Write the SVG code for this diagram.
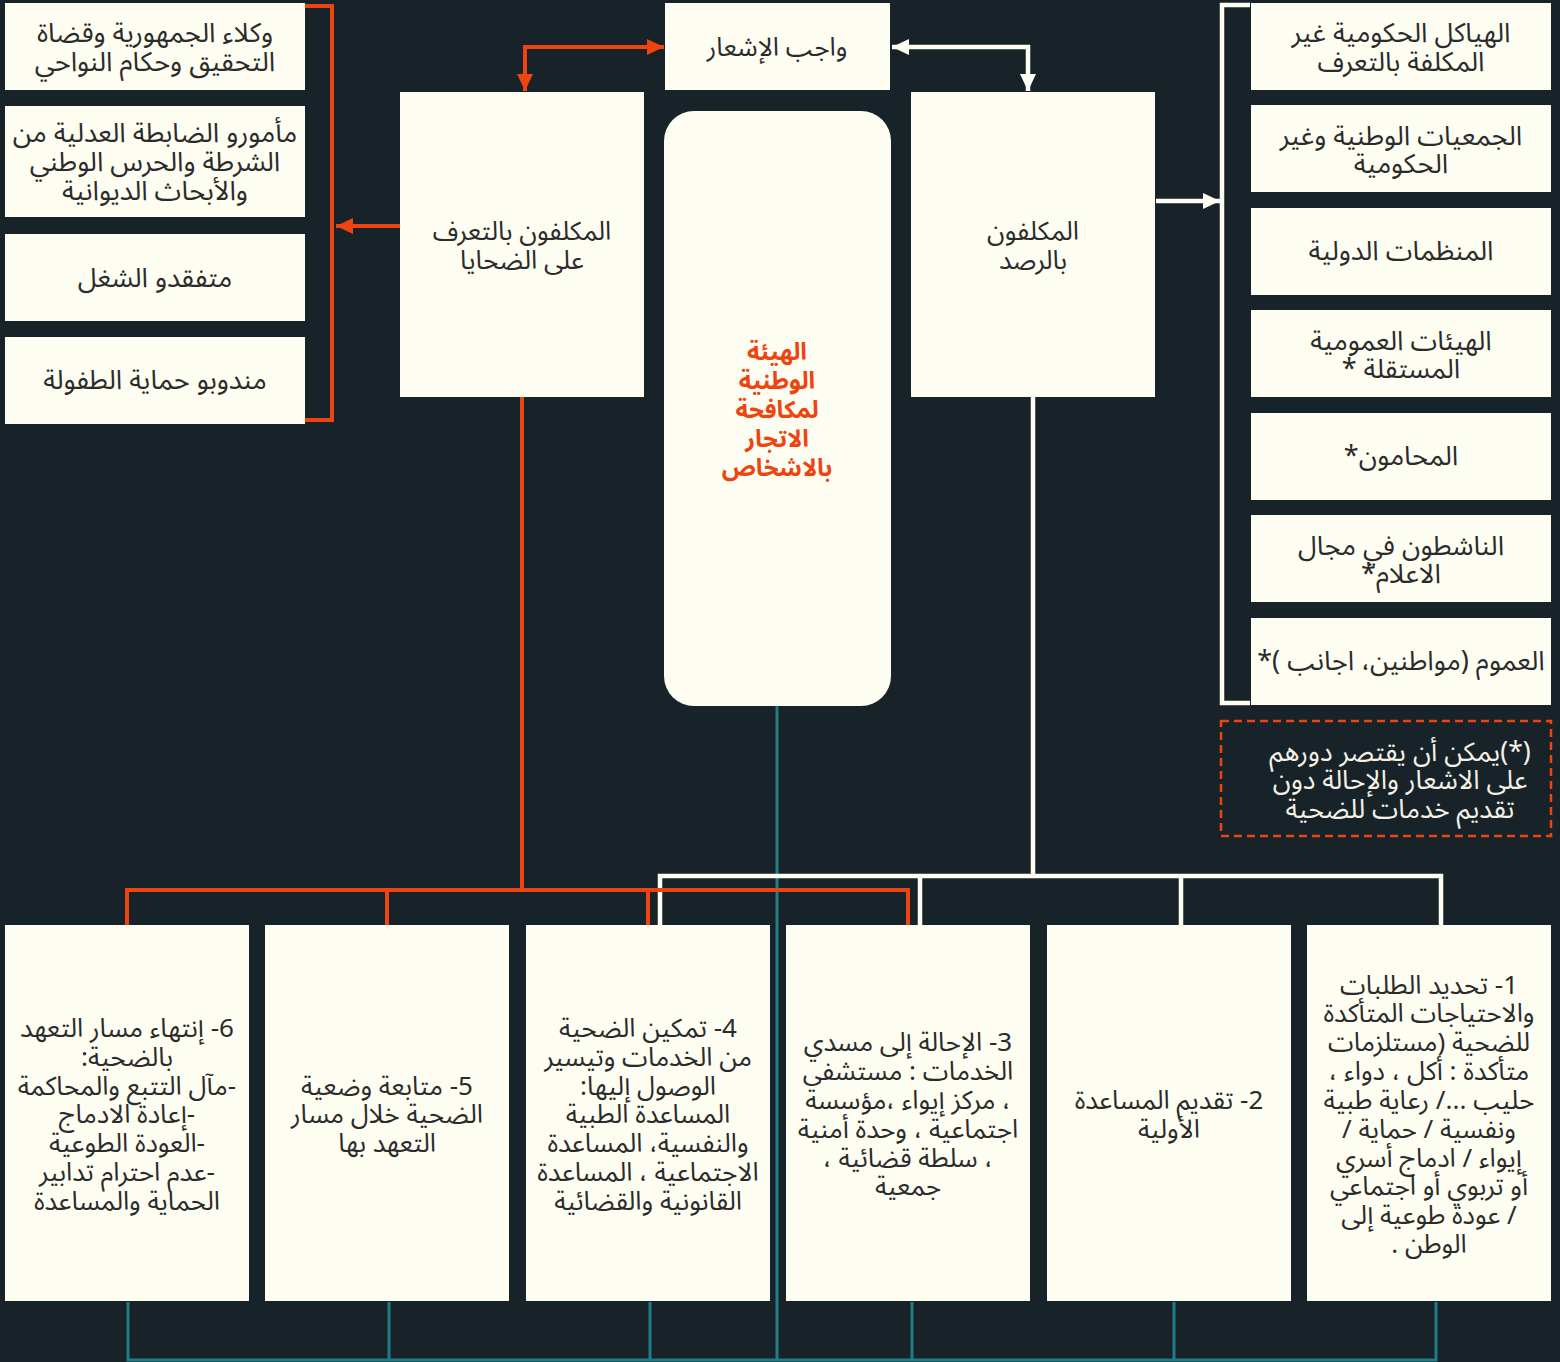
<svg xmlns="http://www.w3.org/2000/svg" width="1560" height="1362" viewBox="0 0 1560 1362">
<defs>
<style>
.bg{fill:#182229}
.bx{fill:#FDFDF2}
.t{font-family:"Noto Sans Arabic","DejaVu Sans",sans-serif;font-size:27px;fill:#2b2b2b;text-anchor:middle;direction:rtl}
.tm{font-family:"Noto Sans Arabic","DejaVu Sans",sans-serif;font-size:26px;fill:#2b2b2b;text-anchor:middle;direction:rtl}
.tb{font-family:"Noto Sans Arabic","DejaVu Sans",sans-serif;font-size:26px;fill:#2b2b2b;text-anchor:middle;direction:rtl}
.tt{font-family:"Noto Sans Arabic","DejaVu Sans",sans-serif;font-size:24px;font-weight:bold;fill:#EE4410;text-anchor:middle;direction:rtl}
.tn{font-family:"Noto Sans Arabic","DejaVu Sans",sans-serif;font-size:26.5px;fill:#F4F1E4;text-anchor:middle;direction:rtl}
.or{fill:none;stroke:#EE4410;stroke-width:4}
.wh{fill:none;stroke:#FDFDF2;stroke-width:4.5}
.tl{fill:none;stroke:#1F7D87;stroke-width:3}
</style>
<marker id="ao" markerUnits="userSpaceOnUse" markerWidth="18" markerHeight="16" refX="17" refY="8" orient="auto-start-reverse" viewBox="0 0 18 16"><path d="M0,0 L17,8 L0,16 Z" fill="#EE4410"/></marker>
<marker id="aw" markerUnits="userSpaceOnUse" markerWidth="18" markerHeight="16" refX="17" refY="8" orient="auto-start-reverse" viewBox="0 0 18 16"><path d="M0,0 L17,8 L0,16 Z" fill="#FDFDF2"/></marker>
</defs>
<rect class="bg" x="0" y="0" width="1560" height="1362"/>

<g id="connectors">
<path class="tl" d="M777,706 V1360"/>
<path class="tl" d="M128,1302 V1360 H1436 V1302 M389,1302 V1360 M650,1302 V1360 M912,1302 V1360 M1174,1302 V1360"/>
<path class="wh" d="M1033,397 V876"/>
<path class="wh" d="M660,925 V876 H1441 V925 M920,876 V925 M1181,876 V925"/>
<path class="or" d="M522,397 V890"/>
<path class="or" d="M127,925 V890 H908 V925 M387,890 V925 M648,890 V925"/>
<path class="or" d="M305,6 H332 V420 H305"/>
<path class="wh" d="M1250,5 H1222 V703 H1250"/>
<path class="or" d="M400,226 H336" marker-end="url(#ao)"/>
<path class="wh" d="M1156,201 H1220" marker-end="url(#aw)"/>
<path class="or" d="M525,91 V47 H664" marker-start="url(#ao)" marker-end="url(#ao)"/>
<path class="wh" d="M1028,91 V47 H892" marker-start="url(#aw)" marker-end="url(#aw)"/>
</g>

<g id="n-notify"><rect class="bx" x="665" y="3" width="225" height="87"/><text class="tm" x="777" y="56">واجب الإشعار</text></g>
<g id="n-identify"><rect class="bx" x="400" y="92" width="244" height="305"/><text class="tm" x="522" y="240">المكلفون بالتعرف</text><text class="tm" x="522" y="269">على الضحايا</text></g>
<g id="n-authority"><rect class="bx" x="664" y="111" width="227" height="595" rx="30" ry="30"/>
<text class="tt" x="777" y="360">الهيئة</text><text class="tt" x="777" y="389">الوطنية</text><text class="tt" x="777" y="418">لمكافحة</text><text class="tt" x="777" y="447">الاتجار</text><text class="tt" x="777" y="476">بالاشخاص</text></g>
<g id="n-monitor"><rect class="bx" x="911" y="92" width="244" height="305"/><text class="tm" x="1033" y="240">المكلفون</text><text class="tm" x="1033" y="269">بالرصد</text></g>

<g id="n-l1"><rect class="bx" x="5" y="3" width="300" height="87"/><text class="t" x="155" y="42">وكلاء الجمهورية وقضاة</text><text class="t" x="155" y="71">التحقيق وحكام النواحي</text></g>
<g id="n-l2"><rect class="bx" x="5" y="106" width="300" height="111"/><text class="t" x="155" y="142">مأمورو الضابطة العدلية من</text><text class="t" x="155" y="171">الشرطة والحرس الوطني</text><text class="t" x="155" y="200">والأبحاث الديوانية</text></g>
<g id="n-l3"><rect class="bx" x="5" y="234" width="300" height="87"/><text class="t" x="155" y="287">متفقدو الشغل</text></g>
<g id="n-l4"><rect class="bx" x="5" y="337" width="300" height="87"/><text class="t" x="155" y="389">مندوبو حماية الطفولة</text></g>

<g id="n-r1"><rect class="bx" x="1251" y="3" width="300" height="87"/><text class="t" x="1401" y="42">الهياكل الحكومية غير</text><text class="t" x="1401" y="71">المكلفة بالتعرف</text></g>
<g id="n-r2"><rect class="bx" x="1251" y="105" width="300" height="87"/><text class="t" x="1401" y="145">الجمعيات الوطنية وغير</text><text class="t" x="1401" y="173">الحكومية</text></g>
<g id="n-r3"><rect class="bx" x="1251" y="208" width="300" height="87"/><text class="t" x="1401" y="260">المنظمات الدولية</text></g>
<g id="n-r4"><rect class="bx" x="1251" y="310" width="300" height="87"/><text class="t" x="1401" y="350">الهيئات العمومية</text><text class="t" x="1401" y="378">المستقلة *</text></g>
<g id="n-r5"><rect class="bx" x="1251" y="413" width="300" height="87"/><text class="t" x="1401" y="465">المحامون*</text></g>
<g id="n-r6"><rect class="bx" x="1251" y="515" width="300" height="87"/><text class="t" x="1401" y="555">الناشطون في مجال</text><text class="t" x="1401" y="583">الاعلام*</text></g>
<g id="n-r7"><rect class="bx" x="1251" y="618" width="300" height="87"/><text class="t" x="1401" y="670">العموم (مواطنين، اجانب )*</text></g>

<g id="n-note"><rect x="1221" y="721" width="330" height="115" fill="none" stroke="#EE4410" stroke-width="2.5" stroke-dasharray="8,5"/>
<text class="tn" x="1400" y="761">(*)يمكن أن يقتصر دورهم</text><text class="tn" x="1400" y="789">على الاشعار والإحالة دون</text><text class="tn" x="1400" y="818">تقديم خدمات للضحية</text></g>

<g id="n-s6"><rect class="bx" x="5" y="925" width="244" height="376"/>
<text class="tb" x="127" y="1037">6- إنتهاء مسار التعهد</text><text class="tb" x="127" y="1066">بالضحية:</text><text class="tb" x="127" y="1095">-مآل التتبع والمحاكمة</text><text class="tb" x="127" y="1123">-إعادة الادماج</text><text class="tb" x="127" y="1152">-العودة الطوعية</text><text class="tb" x="127" y="1181">-عدم احترام تدابير</text><text class="tb" x="127" y="1210">الحماية والمساعدة</text></g>
<g id="n-s5"><rect class="bx" x="265" y="925" width="244" height="376"/>
<text class="tb" x="387" y="1095">5- متابعة وضعية</text><text class="tb" x="387" y="1123">الضحية خلال مسار</text><text class="tb" x="387" y="1152">التعهد بها</text></g>
<g id="n-s4"><rect class="bx" x="526" y="925" width="244" height="376"/>
<text class="tb" x="648" y="1037">4- تمكين الضحية</text><text class="tb" x="648" y="1066">من الخدمات وتيسير</text><text class="tb" x="648" y="1095">الوصول إليها:</text><text class="tb" x="648" y="1123">المساعدة الطبية</text><text class="tb" x="648" y="1152">والنفسية، المساعدة</text><text class="tb" x="648" y="1181">الاجتماعية ، المساعدة</text><text class="tb" x="648" y="1210">القانونية والقضائية</text></g>
<g id="n-s3"><rect class="bx" x="786" y="925" width="244" height="376"/>
<text class="tb" x="908" y="1051">3- الإحالة إلى مسدي</text><text class="tb" x="908" y="1080">الخدمات : مستشفى</text><text class="tb" x="908" y="1109">، مركز إيواء ،مؤسسة</text><text class="tb" x="908" y="1138">اجتماعية ، وحدة أمنية</text><text class="tb" x="908" y="1167">، سلطة قضائية ،</text><text class="tb" x="908" y="1195">جمعية</text></g>
<g id="n-s2"><rect class="bx" x="1047" y="925" width="244" height="376"/>
<text class="tb" x="1169" y="1109">2- تقديم المساعدة</text><text class="tb" x="1169" y="1138">الأولية</text></g>
<g id="n-s1"><rect class="bx" x="1307" y="925" width="244" height="376"/>
<text class="tb" x="1429" y="994">1- تحديد الطلبات</text><text class="tb" x="1429" y="1022">والاحتياجات المتأكدة</text><text class="tb" x="1429" y="1051">للضحية (مستلزمات</text><text class="tb" x="1429" y="1080">متأكدة : أكل ، دواء ،</text><text class="tb" x="1429" y="1109">حليب .../ رعاية طبية</text><text class="tb" x="1429" y="1138">ونفسية / حماية /</text><text class="tb" x="1429" y="1167">إيواء / ادماج أسري</text><text class="tb" x="1429" y="1195">أو تربوي أو اجتماعي</text><text class="tb" x="1429" y="1224">/ عودة طوعية إلى</text><text class="tb" x="1429" y="1253">الوطن .</text></g>
</svg>
